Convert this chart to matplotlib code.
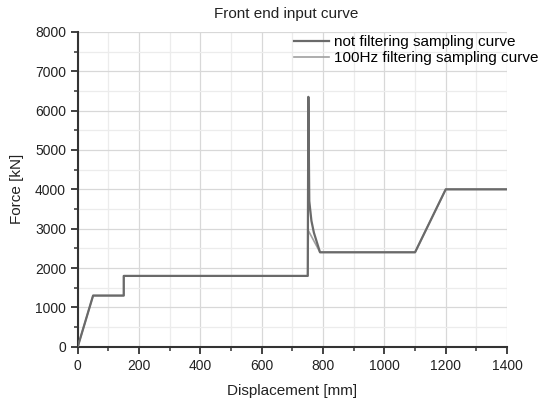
import matplotlib
matplotlib.use("Agg")
from matplotlib import pyplot as plt
from matplotlib.lines import Line2D
from matplotlib.ticker import MultipleLocator

plt.rcParams['font.family'] = ['Liberation Sans', 'DejaVu Sans']

# not filtered sampling curve
raw_x = [0, 50, 150, 150, 750, 752, 755, 762, 770, 790, 1100, 1200, 1400]
raw_y = [0, 1300, 1300, 1800, 1800, 6350, 3700, 3200, 2900, 2400, 2400, 4000, 4000]

# 100Hz filtered sampling curve
filt_x = [0, 50, 150, 150, 750, 752, 790, 1100, 1200, 1400]
filt_y = [0, 1300, 1300, 1800, 1800, 2950, 2400, 2400, 4000, 4000]

labels = ["not filtering sampling curve", "100Hz filtering sampling curve"]
raw_color = "#6a6a6a"
filt_color = "#a0a0a0"

fig = plt.figure(figsize=(5.4, 3.99), dpi=100)
ax = fig.add_axes([0.144, 0.131, 0.795, 0.789])

ax.plot(filt_x, filt_y, color=filt_color, lw=1.2, zorder=3)
ax.plot(raw_x, raw_y, color=raw_color, lw=1.6, zorder=4)

handles = [Line2D([], [], color=raw_color, lw=1.6),
           Line2D([], [], color=filt_color, lw=1.2)]
ax.legend(handles, labels,
          loc="upper left", bbox_to_anchor=(0.49, 1.01), frameon=False,
          fontsize=11, handlelength=2.3, handletextpad=0.3, labelspacing=0.15,
          borderaxespad=0)

ax.set_xlim(0, 1400)
ax.set_ylim(0, 8000)
ax.xaxis.set_major_locator(MultipleLocator(200))
ax.xaxis.set_minor_locator(MultipleLocator(100))
ax.yaxis.set_major_locator(MultipleLocator(1000))
ax.yaxis.set_minor_locator(MultipleLocator(500))

ax.grid(which="major", color="#d8d8d8", lw=0.9)
ax.grid(which="minor", color="#ececec", lw=0.9)
ax.set_axisbelow(True)

for s in ["top", "right"]:
    ax.spines[s].set_visible(False)
for s in ["left", "bottom"]:
    ax.spines[s].set_linewidth(1.5)
    ax.spines[s].set_color("#333333")

ax.tick_params(which="major", direction="out", length=5, width=1.3, color="#333333",
               labelsize=10, labelcolor="#222222")
ax.tick_params(which="minor", direction="out", length=3, width=1.1, color="#333333")

ax.set_xlabel("Displacement [mm]", fontsize=11, color="#222222", labelpad=8)
ax.set_ylabel("Force [kN]", fontsize=11, color="#222222", labelpad=8)
ax.set_title("Front end input curve", fontsize=11, color="#222222", pad=10, x=0.485)

fig.savefig("out.png", dpi=100)
